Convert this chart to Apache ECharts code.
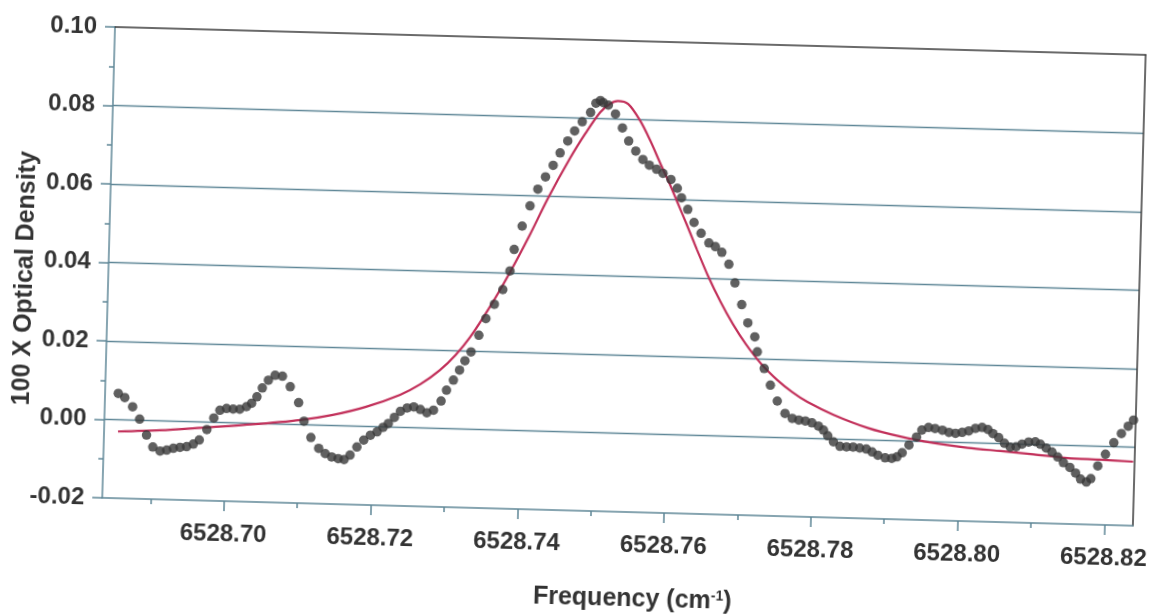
<!DOCTYPE html>
<html><head><meta charset="utf-8">
<script src="https://cdn.jsdelivr.net/npm/echarts@6/dist/echarts.min.js"></script>
<style>
html,body{margin:0;padding:0;background:#fff;overflow:hidden;width:1150px;height:616px;}
#c{width:1250px;height:690px;transform:rotate(1.55deg);transform-origin:115px 27px;}
</style>
</head><body><div id="c"></div>
<script>
// Observed spectrum (dots): frequency (cm^-1) and 100 x optical density
const freqObs = [6528.6852,6528.6861,6528.6872,6528.6882,6528.6892,6528.6901,6528.6911,6528.6920,6528.6929,6528.6938,
6528.6947,6528.6956,6528.6964,6528.6974,6528.6983,6528.6991,6528.7000,6528.7009,6528.7018,6528.7027,
6528.7034,6528.7041,6528.7048,6528.7056,6528.7065,6528.7075,6528.7086,6528.7098,6528.7106,6528.7116,
6528.7127,6528.7136,6528.7145,6528.7154,6528.7162,6528.7170,6528.7179,6528.7188,6528.7197,6528.7206,
6528.7214,6528.7221,6528.7229,6528.7237,6528.7246,6528.7255,6528.7264,6528.7273,6528.7282,6528.7292,
6528.7299,6528.7308,6528.7316,6528.7323,6528.7331,6528.7341,6528.7350,6528.7361,6528.7372,6528.7381,
6528.7386,6528.7396,6528.7406,6528.7416,6528.7426,6528.7436,6528.7445,6528.7455,6528.7464,6528.7474,
6528.7485,6528.7492,6528.7498,6528.7502,6528.7509,6528.7519,6528.7529,6528.7538,6528.7548,6528.7558,
6528.7567,6528.7577,6528.7586,6528.7597,6528.7606,6528.7612,6528.7621,6528.7630,6528.7640,6528.7651,
6528.7660,6528.7669,6528.7679,6528.7688,6528.7698,6528.7707,6528.7717,6528.7721,6528.7731,6528.7740,
6528.7750,6528.7761,6528.7771,6528.7780,6528.7789,6528.7798,6528.7807,6528.7814,6528.7820,6528.7828,
6528.7837,6528.7846,6528.7855,6528.7864,6528.7873,6528.7881,6528.7889,6528.7899,6528.7908,6528.7915,
6528.7922,6528.7931,6528.7941,6528.7948,6528.7957,6528.7966,6528.7976,6528.7985,6528.7994,6528.8003,
6528.8012,6528.8021,6528.8030,6528.8038,6528.8045,6528.8053,6528.8061,6528.8069,6528.8077,6528.8085,
6528.8094,6528.8103,6528.8110,6528.8118,6528.8126,6528.8134,6528.8142,6528.8151,6528.8159,6528.8166,
6528.8174,6528.8180,6528.8189,6528.8199,6528.8210,6528.8220,6528.8229,6528.8236];
const odObs = [0.0067,0.0057,0.0034,0.0003,-0.0037,-0.0067,-0.0077,-0.0074,-0.0069,-0.0066,
-0.0064,-0.0057,-0.0046,-0.0019,0.0011,0.0031,0.0036,0.0035,0.0035,0.0042,
0.0051,0.0068,0.0091,0.0111,0.0124,0.0122,0.0096,0.0056,0.0009,-0.0032,
-0.0059,-0.0072,-0.0080,-0.0084,-0.0086,-0.0074,-0.0053,-0.0035,-0.0022,-0.0013,
-0.0001,0.0009,0.0025,0.0041,0.0050,0.0053,0.0047,0.0039,0.0046,0.0070,
0.0098,0.0124,0.0150,0.0174,0.0197,0.0240,0.0283,0.0320,0.0358,0.0406,
0.0461,0.0521,0.0573,0.0616,0.0648,0.0678,0.0710,0.0741,0.0767,0.0791,
0.0815,0.0839,0.0846,0.0841,0.0835,0.0813,0.0778,0.0745,0.0720,0.0699,
0.0685,0.0675,0.0665,0.0650,0.0628,0.0604,0.0575,0.0542,0.0515,0.0491,
0.0482,0.0468,0.0438,0.0391,0.0336,0.0290,0.0255,0.0217,0.0175,0.0133,
0.0093,0.0062,0.0050,0.0046,0.0044,0.0040,0.0032,0.0022,0.0008,-0.0007,
-0.0018,-0.0019,-0.0019,-0.0021,-0.0023,-0.0030,-0.0038,-0.0044,-0.0045,-0.0041,
-0.0030,-0.0010,0.0011,0.0029,0.0036,0.0034,0.0030,0.0025,0.0023,0.0026,
0.0030,0.0037,0.0040,0.0035,0.0025,0.0015,0.0001,-0.0008,-0.0007,0.0000,
0.0006,0.0007,0.0001,-0.0008,-0.0018,-0.0030,-0.0044,-0.0056,-0.0070,-0.0085,
-0.0092,-0.0083,-0.0050,-0.0020,0.0010,0.0034,0.0053,0.0069];

// Fitted profile (red line)
const freqFit = [6528.6853,6528.6910,6528.6965,6528.7033,6528.7101,6528.7145,6528.7190,6528.7236,6528.7263,6528.7289,
6528.7310,6528.7329,6528.7355,6528.7381,6528.7407,6528.7430,6528.7459,6528.7479,6528.7498,6528.7511,
6528.7522,6528.7536,6528.7553,6528.7567,6528.7582,6528.7595,6528.7606,6528.7620,6528.7635,6528.7651,
6528.7669,6528.7687,6528.7705,6528.7727,6528.7749,6528.7770,6528.7791,6528.7827,6528.7874,6528.7919,
6528.7964,6528.8011,6528.8056,6528.8101,6528.8147,6528.8192,6528.8237];
const odFit = [-0.0030,-0.0024,-0.0015,-0.0003,0.0012,0.0027,0.0050,0.0083,0.0111,0.0148,
0.0188,0.0234,0.0313,0.0402,0.0500,0.0593,0.0698,0.0762,0.0816,0.0838,
0.0846,0.0839,0.0797,0.0749,0.0690,0.0640,0.0595,0.0537,0.0473,0.0407,
0.0342,0.0285,0.0236,0.0186,0.0147,0.0117,0.0093,0.0062,0.0031,0.0011,
-0.0003,-0.0013,-0.0019,-0.0025,-0.0032,-0.0034,-0.0037];

// Axis ticks
const xMajorTicks = [6528.70,6528.72,6528.74,6528.76,6528.78,6528.80,6528.82];
const xMinorTicks = [6528.69,6528.71,6528.73,6528.75,6528.77,6528.79,6528.81];
const xRange = [6528.6834, 6528.8239];
const yRange = [-0.02, 0.10];
const yStep = 0.02;

const xTitle = 'Frequency (cm{sup|-1})';
const yTitle = '100 X Optical Density';

const obs = freqObs.map((f, i) => [f, odObs[i]]);
const fit = freqFit.map((f, i) => [f, odFit[i]]);

const labelFont = "'Liberation Sans',Arial,sans-serif";
const titleFont = "'Liberation Sans',Arial,sans-serif";
const gridCol = '#5f8797';
const frameCol = '#3a3a3a';

const chart = echarts.init(document.getElementById('c'), null, {renderer: 'canvas'});
chart.setOption({
  animation: false,
  grid: {left: 115, top: 27, width: 1031, height: 471, show: false, containLabel: false, outerBoundsMode: 'none'},
  xAxis: [
    {
      type: 'value', min: xRange[0], max: xRange[1], position: 'bottom',
      axisLine: {show: true, onZero: false, lineStyle: {color: gridCol, width: 1.5}},
      axisTick: {show: true, inside: false, length: 10, customValues: xMajorTicks, lineStyle: {color: gridCol, width: 1.5}},
      axisLabel: {customValues: xMajorTicks, formatter: v => v.toFixed(2), margin: 21,
        fontFamily: labelFont, fontWeight: 'bold', fontSize: 24, color: '#333'},
      splitLine: {show: false},
      name: xTitle, nameLocation: 'middle', nameGap: 75, nameMoveOverlap: false,
      nameTextStyle: {fontFamily: titleFont, fontWeight: 'bold', fontSize: 25, color: '#333',
        padding: [0, 0, 0, 34],
        rich: {sup: {fontFamily: titleFont, fontWeight: 'bold', fontSize: 14, color: '#333', verticalAlign: 'top', padding: [0, 0, 10, 0]}}}
    },
    {
      type: 'value', min: xRange[0], max: xRange[1], position: 'bottom',
      axisLine: {show: false, onZero: false},
      axisTick: {show: true, inside: false, length: 5, customValues: xMinorTicks, lineStyle: {color: gridCol, width: 1.5}},
      axisLabel: {show: false}, splitLine: {show: false}
    },
    {
      type: 'value', min: xRange[0], max: xRange[1], position: 'top',
      axisLine: {show: true, onZero: false, lineStyle: {color: frameCol, width: 1.5}},
      axisTick: {show: false}, axisLabel: {show: false}, splitLine: {show: false}
    }
  ],
  yAxis: [
    {
      type: 'value', min: yRange[0], max: yRange[1], interval: yStep, position: 'left',
      axisLine: {show: true, onZero: false, lineStyle: {color: gridCol, width: 1.5}},
      axisTick: {show: true, inside: false, length: 10, lineStyle: {color: gridCol, width: 1.5}},
      minorTick: {show: true, splitNumber: 2, length: 5, lineStyle: {color: gridCol, width: 1.5}},
      axisLabel: {formatter: v => v.toFixed(2), margin: 18,
        fontFamily: labelFont, fontWeight: 'bold', fontSize: 24, color: '#333'},
      splitLine: {show: true, showMinLine: false, showMaxLine: false, lineStyle: {color: gridCol, width: 1.3}},
      name: yTitle, nameLocation: 'middle', nameGap: 70, nameRotate: 90, nameMoveOverlap: false,
      nameTextStyle: {fontFamily: titleFont, fontWeight: 'bold', fontSize: 25, color: '#333', padding: [0, 36, 0, 0]}
    },
    {
      type: 'value', min: yRange[0], max: yRange[1], interval: yStep, position: 'right',
      axisLine: {show: true, onZero: false, lineStyle: {color: frameCol, width: 1.5}},
      axisTick: {show: false}, axisLabel: {show: false}, splitLine: {show: false}
    }
  ],
  series: [
    {
      type: 'line', xAxisIndex: 0, yAxisIndex: 0, data: fit, smooth: 0.3,
      showSymbol: false, lineStyle: {color: '#c2305a', width: 2.2}, z: 2
    },
    {
      type: 'scatter', xAxisIndex: 0, yAxisIndex: 0, data: obs, symbolSize: 9.5,
      itemStyle: {color: '#383838'}, z: 3
    }
  ]
});
</script>
</body></html>
